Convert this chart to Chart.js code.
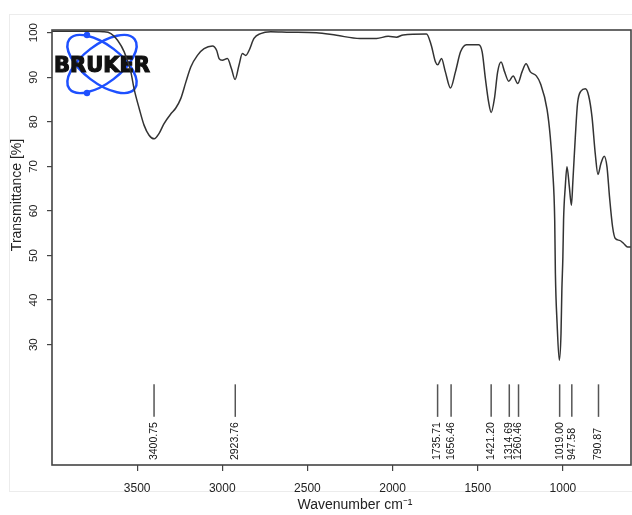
<!DOCTYPE html>
<html lang="en">
<head>
    <meta charset="UTF-8">
    <title>FTIR spectrum</title>
    <script src="https://cdn.jsdelivr.net/npm/chart.js"></script>
    <style>
        body { margin: 0; background: #fff; }
        canvas { display: block; }
    </style>
</head>
<body>
    <canvas id="irChart" width="632" height="515"></canvas>
    <script>
        // spectrum (wavenumber cm-1 / transmittance %)
        const wavenumbers = [4000, 3800, 3700, 3654, 3615, 3576, 3537, 3518, 3488, 3459, 3430, 3400, 3371, 3342, 3302, 3273, 3244, 3214, 3185, 3146, 3107, 3058, 3033, 3019, 3000, 2970, 2946, 2925, 2902, 2882, 2862, 2843, 2814, 2775, 2716, 2600, 2447, 2329, 2192, 2094, 2026, 1977, 1938, 1801, 1773, 1748, 1735, 1713, 1690, 1660, 1631, 1601, 1566, 1494, 1474, 1455, 1436, 1421, 1402, 1383, 1363, 1342, 1318, 1292, 1265, 1240, 1216, 1191, 1156, 1132, 1093, 1074, 1060, 1048, 1044, 1034, 1021, 1011, 1006, 1000, 996, 986, 976, 962, 950, 941, 927, 914, 894, 868, 849, 829, 810, 794, 777, 757, 741, 726, 708, 692, 667, 643, 620, 600];
        const transmittance = [100.3, 100.3, 100.2, 99.8, 98.3, 95.7, 91.2, 87.4, 83.0, 79.2, 77.0, 76.2, 77.4, 79.6, 81.8, 83.1, 85.2, 88.9, 92.3, 94.9, 96.4, 97.0, 96.0, 94.2, 93.8, 94.2, 91.9, 89.5, 92.7, 95.3, 94.9, 96.0, 98.7, 99.8, 100.2, 100.1, 100.0, 99.4, 98.7, 98.7, 99.2, 99.0, 99.5, 99.7, 97.2, 93.4, 92.8, 94.2, 91.2, 87.6, 91.2, 95.7, 97.3, 97.3, 95.7, 89.7, 84.4, 82.1, 85.2, 91.2, 93.4, 91.2, 89.1, 90.3, 88.6, 91.2, 93.0, 91.2, 90.3, 88.6, 82.8, 76.6, 69.1, 57.9, 46.0, 34.8, 26.5, 32.5, 42.2, 49.7, 57.9, 65.4, 69.9, 65.4, 61.3, 66.9, 76.6, 84.1, 86.9, 87.4, 85.9, 81.1, 72.9, 68.2, 70.6, 72.3, 69.9, 63.1, 56.4, 53.8, 53.4, 52.7, 51.9, 51.9];

        const xTicks = [3500, 3000, 2500, 2000, 1500, 1000];
        const yTicks = [30, 40, 50, 60, 70, 80, 90, 100];

        const peaks = [3400.75, 2923.76, 1735.71, 1656.46, 1421.20, 1314.69, 1260.46, 1019.00, 947.58, 790.87];
        const peakLabels = ['3400.75', '2923.76', '1735.71', '1656.46', '1421.20', '1314.69', '1260.46', '1019.00', '947.58', '790.87'];

        const axisColor = '#444';
        const textColor = '#222';

        // box, rotated y labels, titles, peak markers and the logo
        const decorations = {
            id: 'decorations',
            beforeDraw(chart) {
                const ctx = chart.ctx;
                ctx.save();
                ctx.strokeStyle = '#ececec';
                ctx.lineWidth = 1;
                ctx.strokeRect(9.5, 14.5, 640, 477);
                ctx.restore();
            },
            beforeDatasetsDraw(chart) {
                // BRUKER logo
                const ctx = chart.ctx;
                ctx.save();
                ctx.strokeStyle = '#1e50ff';
                ctx.lineWidth = 2.5;
                [0.65, -0.65].forEach(a => {
                    ctx.beginPath();
                    ctx.ellipse(102, 64, 41, 19, a, 0, Math.PI * 2);
                    ctx.stroke();
                });
                ctx.fillStyle = '#1e50ff';
                [[87, 35], [87, 93]].forEach(p => {
                    ctx.beginPath();
                    ctx.arc(p[0], p[1], 3.2, 0, Math.PI * 2);
                    ctx.fill();
                });
                ctx.fillStyle = '#111';
                ctx.strokeStyle = '#111';
                ctx.lineWidth = 1.2;
                ctx.font = 'bold 21px "DejaVu Sans"';
                ctx.textAlign = 'left';
                ctx.textBaseline = 'alphabetic';
                ctx.fillText('BRUKER', 54, 72);
                ctx.strokeText('BRUKER', 54, 72);
                ctx.restore();
            },
            afterDraw(chart) {
                const ctx = chart.ctx;
                const xs = chart.scales.x;
                const ys = chart.scales.y;
                const area = chart.chartArea;
                ctx.save();

                // frame
                ctx.strokeStyle = axisColor;
                ctx.lineWidth = 1.6;
                ctx.strokeRect(area.left, area.top, area.right - area.left, area.bottom - area.top);

                // y tick labels, rotated
                ctx.fillStyle = textColor;
                ctx.font = '11.5px "Liberation Sans"';
                ctx.textAlign = 'center';
                ctx.textBaseline = 'middle';
                yTicks.forEach(v => {
                    ctx.save();
                    ctx.translate(34, ys.getPixelForValue(v));
                    ctx.rotate(-Math.PI / 2);
                    ctx.fillText(String(v), 0, 0);
                    ctx.restore();
                });

                // axis titles
                ctx.font = '14px "Liberation Sans"';
                ctx.save();
                ctx.translate(17, 195);
                ctx.rotate(-Math.PI / 2);
                ctx.fillText('Transmittance [%]', 0, 0);
                ctx.restore();
                ctx.fillText('Wavenumber cm\u207B\u00B9', 355, 505);

                // peak markers
                ctx.strokeStyle = '#555';
                ctx.lineWidth = 1.5;
                ctx.fillStyle = '#111';
                ctx.font = '10.5px "Liberation Sans"';
                ctx.textAlign = 'left';
                peaks.forEach((p, i) => {
                    const px = xs.getPixelForValue(p);
                    ctx.beginPath();
                    ctx.moveTo(px, ys.getPixelForValue(21.1));
                    ctx.lineTo(px, ys.getPixelForValue(13.8));
                    ctx.stroke();
                    ctx.save();
                    ctx.translate(px, ys.getPixelForValue(4.1));
                    ctx.rotate(-Math.PI / 2);
                    ctx.fillText(peakLabels[i], 0, 0);
                    ctx.restore();
                });
                ctx.restore();
            }
        };

        const points = wavenumbers.map((w, i) => ({ x: w, y: transmittance[i] }));

        new Chart(document.getElementById('irChart'), {
            type: 'line',
            data: {
                datasets: [{
                    data: points,
                    borderColor: '#333',
                    borderWidth: 1.5,
                    pointRadius: 0,
                    fill: false,
                    cubicInterpolationMode: 'monotone'
                }]
            },
            options: {
                responsive: false,
                animation: false,
                devicePixelRatio: 1,
                layout: { padding: { top: 30, right: 1, left: 0, bottom: 0 } },
                plugins: { legend: { display: false }, tooltip: { enabled: false } },
                scales: {
                    x: {
                        type: 'linear',
                        reverse: true,
                        min: 600,
                        max: 4000,
                        afterBuildTicks: s => { s.ticks = xTicks.map(v => ({ value: v })); },
                        afterFit: s => { s.height = 50; },
                        border: { display: false },
                        grid: { drawOnChartArea: false, drawTicks: true, tickLength: 6, color: axisColor, lineWidth: 1.2 },
                        ticks: {
                            padding: 10,
                            maxRotation: 0,
                            color: textColor,
                            font: { family: 'Liberation Sans', size: 12 },
                            callback: v => String(v)
                        }
                    },
                    y: {
                        type: 'linear',
                        min: 3,
                        max: 100.6,
                        afterBuildTicks: s => { s.ticks = yTicks.map(v => ({ value: v })); },
                        afterFit: s => { s.width = 52; },
                        border: { display: false },
                        grid: { drawOnChartArea: false, drawTicks: true, tickLength: 5, color: axisColor, lineWidth: 1.2 },
                        ticks: { display: false }
                    }
                }
            },
            plugins: [decorations]
        });
    </script>
</body>
</html>
